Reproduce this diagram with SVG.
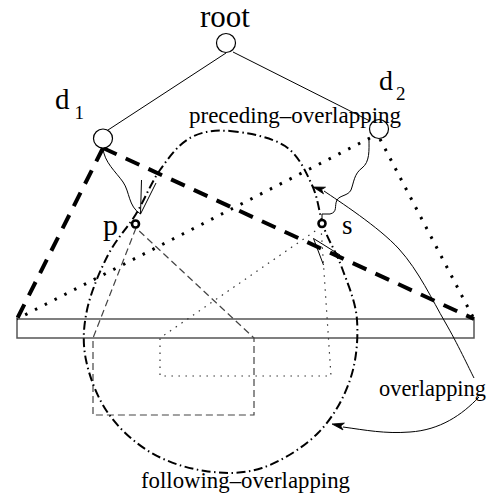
<svg xmlns="http://www.w3.org/2000/svg" width="496" height="499" viewBox="0 0 496 499">
<style>
text{font-family:"Liberation Serif","Times New Roman",serif;fill:#000}
.tree{stroke:#000;stroke-width:1;fill:none}
.thickdash{stroke:#000;stroke-width:4;stroke-dasharray:15 10;fill:none}
.thickdot{stroke:#000;stroke-width:3;stroke-dasharray:2.5 8.5;fill:none}
.dashdot{stroke:#000;stroke-width:2;stroke-dasharray:9 3.5 1.5 3.5;fill:none}
.thindash{stroke:#444;stroke-width:1.2;stroke-dasharray:7 4;fill:none}
.thindot{stroke:#333;stroke-width:1.2;stroke-dasharray:1.5 5.5;fill:none}
.curve{stroke:#000;stroke-width:1;fill:none}
.node{fill:#fff;stroke:#000;stroke-width:1.2}
.pt{fill:#fff;stroke:#000;stroke-width:2.6}
.head{fill:#000;stroke:#000;stroke-width:0.8}
</style>
<rect x="17" y="319" width="457" height="19" fill="#fff" stroke="#555" stroke-width="1.5"/>
<g id="connectors">
<line class="tree" x1="226" y1="53" x2="108" y2="130"/>
<line class="tree" x1="233" y1="52" x2="370" y2="121"/>
<line class="thickdash" x1="103" y1="148" x2="17" y2="319"/>
<line class="thickdash" x1="103" y1="148" x2="474" y2="319"/>
<line class="thickdot" x1="370" y1="138" x2="17" y2="319"/>
<line class="thickdot" x1="380" y1="139" x2="474" y2="319"/>
<path class="thindash" d="M136,228 L93,338 L93,415 L254,415 L254,338 Z"/>
<path class="thindot" d="M321,227 L160,338 L160,376 L331,376 Z"/>
<path class="dashdot" d="M230,131 C245.8,132.3 271.3,137 285,146 C298.7,155 305.5,171.3 312,185 C318.5,198.7 319,214.2 324,228 C329,241.8 336.5,252.7 342,268 C347.5,283.3 355.7,301.3 357,320 C358.3,338.7 356.5,361.2 350,380 C343.5,398.8 332.7,418.3 318,433 C303.3,447.7 280.8,461.7 262,468 C243.2,474.3 223.7,473.7 205,471 C186.3,468.3 166.2,461.7 150,452 C133.8,442.3 118.7,428.3 108,413 C97.3,397.7 89.5,377.2 86,360 C82.5,342.8 83.3,327.5 87,310 C90.7,292.5 99.8,271 108,255 C116.2,239 127.3,228.2 136,214 C144.7,199.8 151,182.7 160,170 C169,157.3 178.3,144.5 190,138 C201.7,131.5 214.2,129.7 230,131 Z"/>
<path class="curve" d="M103,148 C104,162 116,172 123,182 C130,192 128,206 140.5,214"/>
<line class="curve" x1="141.5" y1="180" x2="140.5" y2="214"/>
<line class="curve" x1="156" y1="183" x2="140.5" y2="214"/>
<path class="curve" d="M369,139 C369,150 370,162 362,168 C354,174 354,182 351,190 C348,196 340,195 337,200 C334,206 338,212 330,214 L322,214 L322,219"/>
<line class="curve" x1="313.5" y1="238.5" x2="323.5" y2="265"/>
<line class="curve" x1="313.5" y1="238.5" x2="340" y2="255"/>
<path class="curve" d="M474,378 C469.2,368.7 457.5,343.5 445,322 C432.5,300.5 418.8,270.8 399,249 C379.2,227.2 338.2,200.7 324,191"/>
<path class="head" d="M313,187 L325.5,187.2 L321.6,189.6 L323.5,193.8 Z"/>
<path class="curve" d="M479,397 C462,415 440,430 410,432 C385,434 365,430 343,427"/>
<path class="head" d="M332,424 L344.4,423.1 L340.8,425.9 L343,429.9 Z"/>
</g>
<g id="root"><circle class="node" cx="226" cy="43" r="9.5"/><text x="225" y="27" font-size="31" text-anchor="middle">root</text></g>
<g id="d1"><circle class="node" cx="103" cy="138.5" r="9.5"/><text x="55" y="109" font-size="29">d<tspan font-size="19" dx="5" dy="10">1</tspan></text></g>
<g id="d2"><circle class="node" cx="379" cy="129" r="9.5"/><text x="379" y="90" font-size="28">d<tspan font-size="19" dx="3" dy="10">2</tspan></text></g>
<g id="p"><circle class="pt" cx="135.5" cy="224" r="3.5"/><text x="103" y="235" font-size="30">p</text></g>
<g id="s"><circle class="pt" cx="322" cy="223.5" r="3.5"/><text x="342" y="234" font-size="27">s</text></g>
<g id="labels">
<text x="189" y="123" font-size="23">preceding–overlapping</text>
<text x="379" y="396" font-size="22.4">overlapping</text>
<text x="141" y="488" font-size="22.8">following–overlapping</text>
</g>
</svg>
